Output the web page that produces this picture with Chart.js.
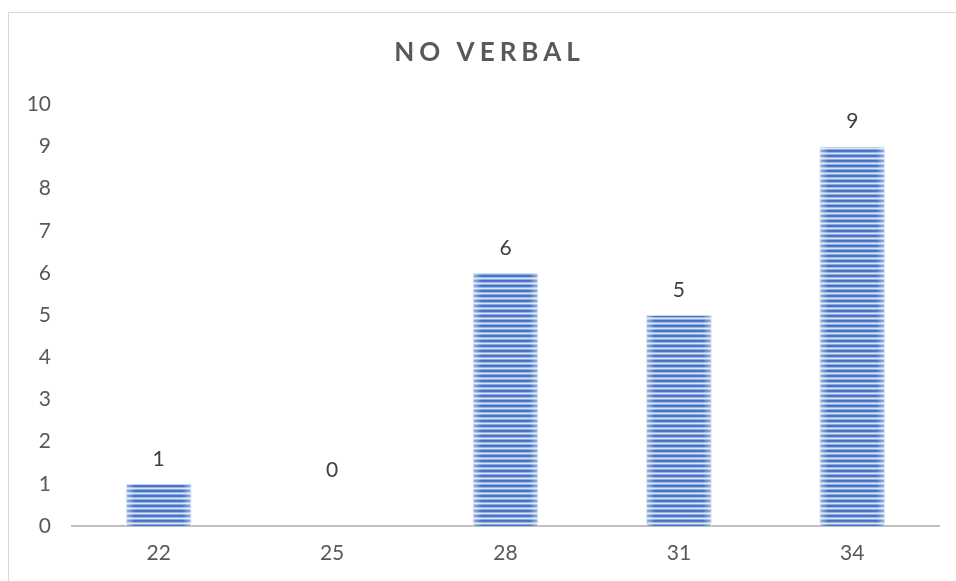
<!DOCTYPE html>
<html>
<head>
<meta charset="utf-8">
<script src="https://cdn.jsdelivr.net/npm/chart.js@4"></script>
<style>
  html, body { margin: 0; padding: 0; background: #ffffff; }
  #wrap { position: relative; width: 956px; height: 581px; }
</style>
</head>
<body>
<div id="wrap"><canvas id="chart" width="956" height="581"></canvas></div>
<script>
// Chart content
const TITLE = 'NO VERBAL';
const categories = ['22', '25', '28', '31', '34'];
const counts = [1, 0, 6, 5, 9];
const yTickValues = [0, 1, 2, 3, 4, 5, 6, 7, 8, 9, 10];

const FONT = 'Lato, "Open Sans", "Liberation Sans", sans-serif';

// Horizontal striped fill for the bars
function stripePattern() {
  const c = document.createElement('canvas');
  c.width = 8; c.height = 5;
  const g = c.getContext('2d');
  const rows = ['#4472C4', '#4A77C7', '#9AB5E3', '#DAE4F5', '#8DABDF'];
  rows.forEach((col, i) => { g.fillStyle = col; g.fillRect(0, i, 8, 1); });
  return g.createPattern(c, 'repeat');
}

// Outer frame around the chart
const framePlugin = {
  id: 'frame',
  beforeDraw(chart) {
    const ctx = chart.ctx;
    ctx.save();
    ctx.strokeStyle = '#D9D9D9';
    ctx.lineWidth = 1;
    ctx.strokeRect(8.5, 12.5, 970, 600);
    ctx.restore();
  }
};

// Spaced-out title lettering, centred on the frame
const titleSpacing = {
  id: 'titleSpacing',
  afterInit(chart) {
    const tb = chart.titleBlock;
    if (!tb || tb._spaced) return;
    const orig = tb.draw.bind(tb);
    tb.draw = function () {
      const ctx = this.ctx;
      ctx.save();
      ctx.letterSpacing = '5px';
      ctx.translate(20, 0);
      orig();
      ctx.restore();
    };
    tb._spaced = true;
  }
};

// Soft light edges on each bar
const barEdges = {
  id: 'barEdges',
  afterDatasetsDraw(chart) {
    const ctx = chart.ctx;
    const meta = chart.getDatasetMeta(0);
    meta.data.forEach((bar) => {
      const h = bar.base - bar.y;
      if (h <= 0) return;
      const left = bar.x - bar.width / 2, right = bar.x + bar.width / 2;
      const w = 9;
      let g = ctx.createLinearGradient(left, 0, left + w, 0);
      g.addColorStop(0, 'rgba(255,255,255,0.5)');
      g.addColorStop(1, 'rgba(255,255,255,0)');
      ctx.fillStyle = g;
      ctx.fillRect(left, bar.y, w, h);
      g = ctx.createLinearGradient(right - w, 0, right, 0);
      g.addColorStop(0, 'rgba(255,255,255,0)');
      g.addColorStop(1, 'rgba(255,255,255,0.5)');
      ctx.fillStyle = g;
      ctx.fillRect(right - w, bar.y, w, h);
    });
  }
};

// Value labels above the bars
const valueLabels = {
  id: 'valueLabels',
  afterDatasetsDraw(chart) {
    const ctx = chart.ctx;
    const ds = chart.data.datasets[0];
    const meta = chart.getDatasetMeta(0);
    ctx.save();
    ctx.font = '21px ' + FONT;
    ctx.fillStyle = '#404040';
    ctx.textAlign = 'center';
    ctx.textBaseline = 'middle';
    meta.data.forEach((bar, i) => {
      const y = Math.min(bar.y, bar.base - 31) - 25;
      ctx.fillText(String(ds.data[i]), bar.x, y);
    });
    ctx.restore();
  }
};

new Chart(document.getElementById('chart'), {
  type: 'bar',
  data: {
    labels: categories,
    datasets: [{
      label: TITLE,
      data: counts,
      backgroundColor: stripePattern(),
      borderColor: '#C9D7F0',
      borderWidth: 1,
      categoryPercentage: 1,
      barPercentage: 0.38
    }]
  },
  options: {
    responsive: false,
    animation: false,
    devicePixelRatio: 1,
    layout: { padding: { left: 0, right: 17, top: 0, bottom: 0 } },
    plugins: {
      legend: { display: false },
      tooltip: { enabled: false },
      title: {
        display: true,
        text: TITLE,
        color: '#595959',
        font: { family: FONT, size: 26, weight: 'bold', lineHeight: 1.2 },
        padding: { top: 37, bottom: 36 }
      }
    },
    scales: {
      x: {
        grid: { display: false, drawTicks: false },
        border: { display: true, color: '#BFBFBF', width: 2 },
        ticks: { color: '#595959', font: { family: FONT, size: 21 }, padding: 15 },
        afterFit(scale) { scale.height = 55; }
      },
      y: {
        min: 0,
        max: 10,
        grid: { display: false, drawTicks: false },
        border: { display: false },
        afterBuildTicks(scale) { scale.ticks = yTickValues.map(v => ({ value: v })); },
        ticks: { color: '#595959', font: { family: FONT, size: 21 }, padding: 21 },
        afterFit(scale) { scale.width = 72; }
      }
    }
  },
  plugins: [framePlugin, titleSpacing, barEdges, valueLabels]
});
</script>
</body>
</html>
